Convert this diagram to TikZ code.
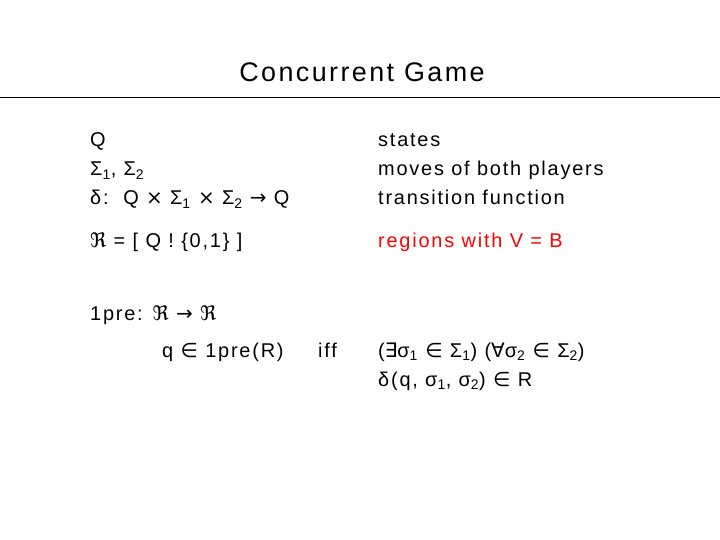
\documentclass[tikz,border=0pt]{standalone}
\usepackage{fontspec}
\setmainfont{Liberation Sans}[LetterSpace=9]
\newfontfamily\sym{DejaVu Sans}
\usepackage{tikz}
\newcommand{\lo}[1]{\textsubscript{#1}}
\newcommand{\sy}[1]{{\sym #1}}
\begin{document}
\begin{tikzpicture}[x=1bp,y=-1bp,
    txt/.style={anchor=base west,inner sep=0pt,font=\fontsize{20}{24}\selectfont}]
        \useasboundingbox (0,0) rectangle (720,540);
        \node[anchor=base,inner sep=0pt,font=\fontsize{27}{30}\selectfont] (title) at (362,82) {Concurrent Game};
        \draw[thick] (0,97) -- (720,97);
        % definitions
        \node[txt] (q) at (90,147) {Q};
        \node[txt] (moves) at (90,176) {Σ\lo{1}, Σ\lo{2}};
        \node[txt] (delta) at (90,205) {δ:\ \ Q \sy{×} Σ\lo{1} \sy{×} Σ\lo{2} \sy{→} Q};
        \node[txt] (states) at (378,147) {states};
        \node[txt] (mv) at (378,176) {moves of both players};
        \node[txt] (tf) at (378,205) {transition function};
        \node[txt] (reg) at (90,248) {\sy{ℜ} = [ Q ! \{0,1\} ]};
        \node[txt,red] (regtxt) at (378,248) {regions with V = B};
        % controllable predecessor
        \node[txt] (pre) at (90,320) {1pre: \sy{ℜ} \sy{→} \sy{ℜ}};
        \node[txt] (lhs) at (162,357) {q \sy{∈} 1pre(R)};
        \node[txt] (iff) at (318,357) {iff};
        \node[txt] (rhs1) at (378,357) {(\sy{∃}σ\lo{1} \sy{∈} Σ\lo{1}) (\sy{∀}σ\lo{2} \sy{∈} Σ\lo{2})};
        \node[txt] (rhs2) at (378,386) {δ(q, σ\lo{1}, σ\lo{2}) \sy{∈} R};
\end{tikzpicture}
\end{document}
